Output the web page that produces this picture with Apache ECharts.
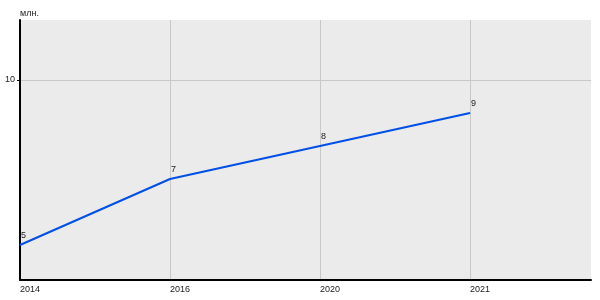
<!DOCTYPE html>
<html>
<head>
<meta charset="utf-8">
<script src="https://cdn.jsdelivr.net/npm/echarts@6/dist/echarts.min.js"></script>
<style>html,body{margin:0;padding:0;background:#fff}#c{width:600px;height:300px}</style>
</head>
<body>
<div id="c"></div>
<script>
const categories = ['2014', '2016', '2020', '2021'];
const values = [5, 7, 8, 9];
const yTicks = [10];
const yName = 'млн.';

const chart = echarts.init(document.getElementById('c'), null, {renderer: 'canvas'});
const font = 'Liberation Sans, Arial, sans-serif';
const xIdx = categories.map((c, i) => i);
chart.setOption({
  animation: false,
  grid: {left: 20, right: 9, top: 20, bottom: 20, show: true, backgroundColor: '#ebebeb', borderWidth: 0},
  xAxis: {
    type: 'value', min: 0, max: 3.807,
    axisLine: {show: true, lineStyle: {color: '#000', width: 2}},
    axisTick: {show: false, customValues: xIdx},
    axisLabel: {customValues: xIdx, formatter: v => categories[Math.round(v)] || '', align: 'left', fontSize: 9, fontFamily: font, color: '#222', margin: 5},
    splitLine: {show: true, lineStyle: {color: '#c8c8c8', width: 1}}
  },
  yAxis: {
    type: 'value', min: 10 - 200 / 33, max: 10 + 60 / 33,
    name: yName, nameLocation: 'end', nameGap: 2,
    nameTextStyle: {align: 'left', fontSize: 9, fontFamily: font, color: '#222'},
    axisLine: {show: true, lineStyle: {color: '#000', width: 2}},
    axisTick: {show: true, length: 3, customValues: yTicks, lineStyle: {color: '#000'}},
    axisLabel: {customValues: yTicks, fontSize: 9, fontFamily: font, color: '#222', margin: 5},
    splitLine: {show: true, lineStyle: {color: '#c8c8c8', width: 1}}
  },
  series: [{
    type: 'line',
    data: values.map((v, i) => [i, v]),
    symbol: 'circle', symbolSize: 1,
    itemStyle: {color: '#0050e6'},
    lineStyle: {color: '#0050e6', width: 2},
    label: {show: true, position: 'top', align: 'left', distance: 4, offset: [1, 0], fontSize: 9, fontFamily: font, color: '#222'}
  }]
});
</script>
</body>
</html>
